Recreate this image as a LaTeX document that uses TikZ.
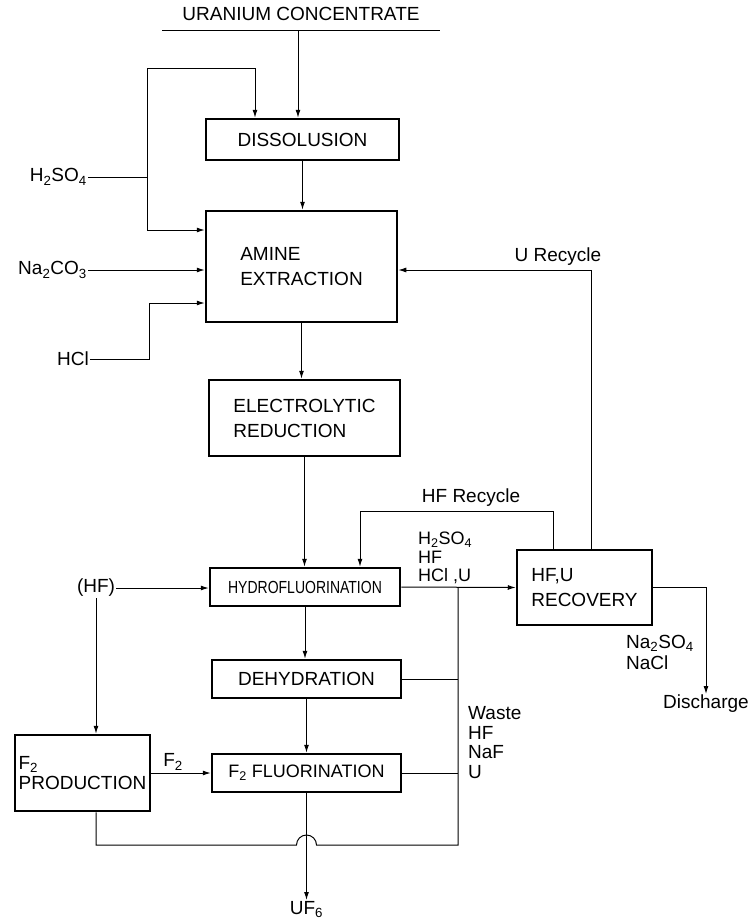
\documentclass[tikz,border=0pt]{standalone}
\usepackage{fontspec}
\setmainfont{Liberation Sans}
\usepackage{graphicx}
\usepackage{tikz}
\usetikzlibrary{arrows.meta}

\begin{document}
\begin{tikzpicture}[
  x=1pt, y=-1pt,
  font=\fontsize{19}{25}\selectfont,
  unit/.style={draw, line width=2.5pt, align=left, inner sep=0pt},
  lbl/.style={inner sep=1pt, align=left},
  pipe/.style={line width=1pt},
  arrow/.style={pipe, -{Latex[length=8pt,width=5pt]}}
]
  \useasboundingbox (0,0) rectangle (752,924);

  % process units
  \node[unit, minimum width=193pt, minimum height=41pt] (diss) at (302.5,139.5) {DISSOLUSION};
  \node[unit, minimum width=191pt, minimum height=111pt] (amine) at (301.5,266.5) {AMINE\\EXTRACTION};
  \node[unit, minimum width=191pt, minimum height=76pt] (elec) at (304.5,418) {ELECTROLYTIC\\REDUCTION};
  \node[unit, minimum width=190pt, minimum height=38pt] (hydro) at (305,587)
    {\fontsize{17.5}{20}\selectfont\scalebox{0.8}[1]{HYDROFLUORINATION}};
  \node[unit, minimum width=189pt, minimum height=38pt] (dehyd) at (306.5,679) {DEHYDRATION};
  \node[unit, minimum width=189pt, minimum height=38pt] (fluor) at (306.5,773)
    {\fontsize{18}{20}\selectfont F\textsubscript{2} FLUORINATION};
  \node[unit, minimum width=135pt, minimum height=75pt] (recov) at (584.5,587.5) {HF,U\\RECOVERY};
  \node[unit, minimum width=135pt, minimum height=76pt, font=\fontsize{19}{20.5}\selectfont]
    (f2prod) at (82.5,773) {F\textsubscript{2}\\PRODUCTION};

  % stream labels
  \node[lbl] (uc) at (301,14) {URANIUM CONCENTRATE};
  \node[lbl, anchor=east] (h2so4) at (88,177) {H\textsubscript{2}SO\textsubscript{4}};
  \node[lbl, anchor=east] (na2co3) at (88,270) {Na\textsubscript{2}CO\textsubscript{3}};
  \node[lbl, anchor=east] (hcl) at (90,359) {HCl};
  \node[lbl] (urec) at (558,257) {U Recycle};
  \node[lbl] (hfrec) at (471,498) {HF Recycle};
  \node[lbl, anchor=west, font=\fontsize{18}{18.5}\selectfont, inner sep=0pt] (strip) at (418,558)
    {H\textsubscript{2}SO\textsubscript{4}\\HF\\HCl ,U};
  \node[lbl, anchor=west, font=\fontsize{19}{21}\selectfont] (salts) at (625,652)
    {Na\textsubscript{2}SO\textsubscript{4}\\NaCl};
  \node[lbl] (hf) at (96,588) {(HF)};
  \node[lbl, anchor=north] (disch) at (706,694) {Discharge};
  \node[lbl, anchor=west, font=\fontsize{19}{19.5}\selectfont] (waste) at (467,742.5)
    {Waste\\HF\\NaF\\U};
  \node[lbl] (f2lbl) at (173,762) {F\textsubscript{2}};
  \node[lbl, anchor=north] (uf6) at (306.5,900) {UF\textsubscript{6}};

  % junctions
  \coordinate (ulL) at (162,30);
  \coordinate (ulR) at (440,30);
  \coordinate (ucf) at (298,30);
  \coordinate (sj) at (147,177);
  \coordinate (wj) at (458,587);
  \coordinate (bot) at (458,845);
  \coordinate (hop) at (fluor.south |- bot);

  % main line
  \draw[pipe] (ulL) -- (ulR);
  \draw[arrow] (ucf) -- (ucf |- diss.north);
  \draw[arrow] (diss.south) -- (diss.south |- amine.north);
  \draw[arrow] (amine.south) -- (amine.south |- elec.north);
  \draw[arrow] (elec.south) -- (elec.south |- hydro.north);
  \draw[arrow] (hydro.south) -- (hydro.south |- dehyd.north);
  \draw[arrow] (dehyd.south) -- (dehyd.south |- fluor.north);
  \draw[arrow] (fluor.south) -- (uf6.north);

  % reagents
  \draw[pipe] (h2so4.east) -- (sj);
  \draw[arrow] (sj) -- ++(0,-109) -| ([xshift=-47.5pt]diss.north);
  \draw[arrow] (sj) |- ([yshift=36.5pt]amine.west);
  \draw[arrow] (na2co3.east) -- (na2co3.east -| amine.west);
  \draw[arrow] (hcl.east) -- ++(59,0) |- ([yshift=-36.5pt]amine.west);
  \draw[arrow] (hf.east) -- (hf.east -| hydro.west);
  \draw[arrow] (hf.south) -- (hf.south |- f2prod.north);
  \draw[arrow] (f2prod.east) -- (fluor.west);

  % recovery and recycles
  \draw[arrow] (hydro.east) -- (recov.west);
  \draw[arrow] ([xshift=6.5pt]recov.north) |- ([yshift=-3.5pt]amine.east);
  \draw[arrow] ([xshift=-31.5pt]recov.north) -- ++(0,-37) -| ([xshift=55pt]hydro.north);
  \draw[arrow] (recov.east) -| (disch.north);

  % waste
  \draw[pipe] (dehyd.east) -- (dehyd.east -| wj);
  \draw[pipe] (fluor.east) -- (fluor.east -| wj);
  \draw[pipe] (wj) -- (bot) -- ([xshift=10pt]hop)
    arc[start angle=0, end angle=180, radius=10pt]
    -- (hf.south |- bot) -- (hf.south |- f2prod.south);
\end{tikzpicture}
\end{document}
